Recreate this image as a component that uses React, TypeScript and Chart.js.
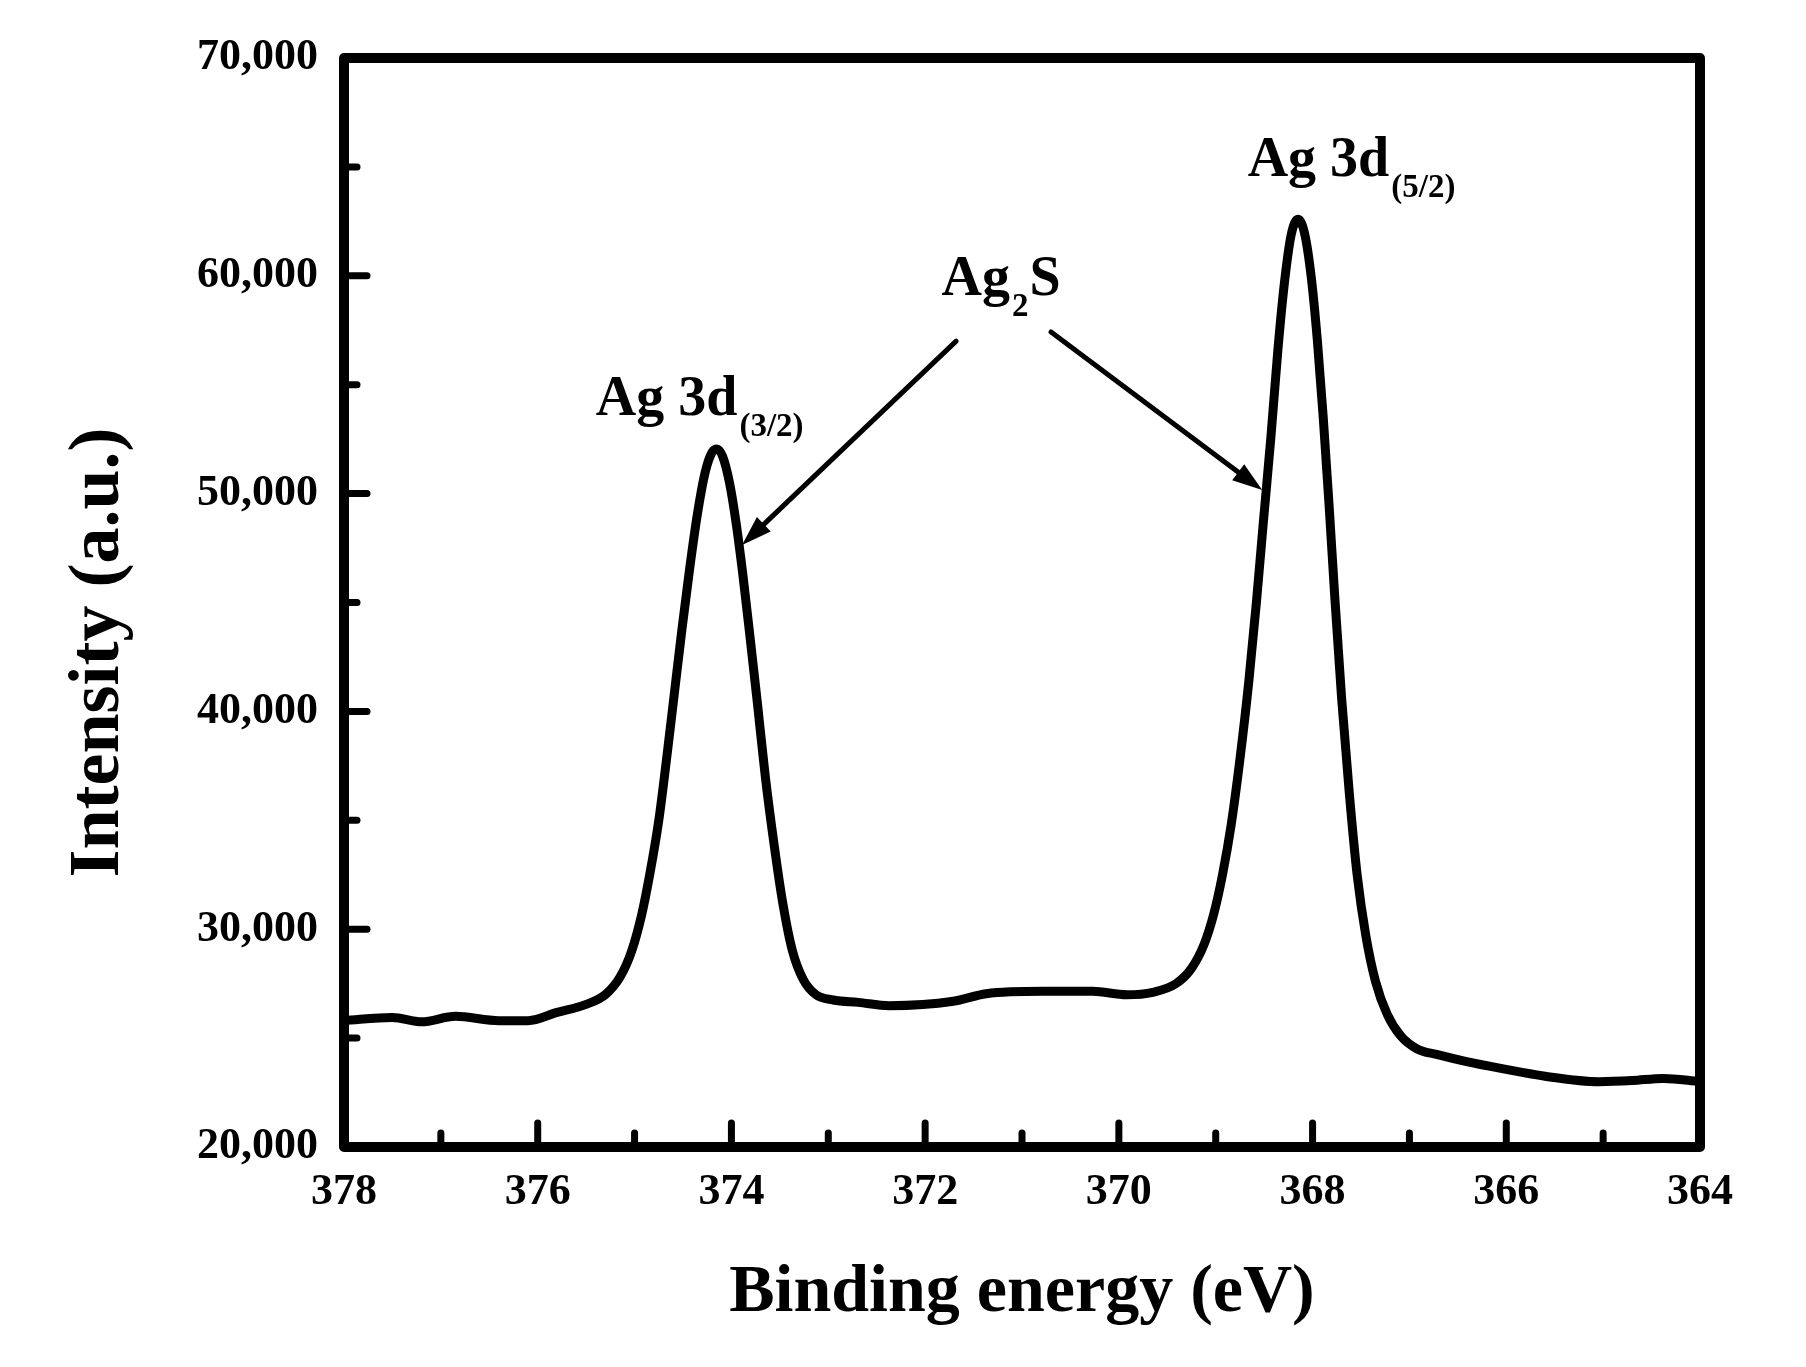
import React, { useEffect, useRef } from "react";
import { Chart, registerables } from "chart.js";

Chart.register(...registerables);

// ---- data ----
const bindingEnergy = [
  378.0, 377.5, 377.2, 376.85, 376.4, 376.1, 375.8, 375.5, 375.3, 375.15,
  375.03, 374.93, 374.84, 374.75, 374.67, 374.59, 374.51, 374.43, 374.35, 374.27,
  374.2, 374.15, 374.09, 374.02, 373.95, 373.88, 373.81, 373.73, 373.65, 373.56,
  373.47, 373.37, 373.26, 373.13, 372.95, 372.69, 372.37, 371.71, 371.37, 370.78,
  370.27, 369.92, 369.65, 369.41, 369.25, 369.12, 369.02, 368.93, 368.84, 368.75,
  368.66, 368.58, 368.51, 368.43, 368.36, 368.29, 368.22, 368.15, 368.08, 368.01,
  367.95, 367.89, 367.83, 367.77, 367.7, 367.62, 367.54, 367.45, 367.35, 367.23,
  367.09, 366.92, 366.72, 366.41, 366.07, 365.6, 365.04, 364.7, 364.38, 364.0,
];
const intensity = [
  25800, 25950, 25750, 26000, 25800, 25800, 26180, 26550, 27000, 27800,
  29000, 30600, 32600, 35000, 37800, 40800, 43800, 46600, 49100, 51000,
  51900, 52050, 51700, 50500, 48600, 46200, 43500, 40300, 37000, 33900,
  31200, 29000, 27700, 27000, 26750, 26640, 26490, 26690, 27040, 27150,
  27150, 26990, 27100, 27500, 28200, 29300, 30700, 32500, 34800, 37800,
  41300, 45000, 48600, 52600, 56500, 59700, 61900, 62600, 61900, 59800,
  57000, 53500, 49500, 45200, 40600, 36200, 32500, 29700, 27600, 26100,
  25100, 24500, 24250, 23920, 23620, 23250, 23000, 23050, 23150, 23000,
];

const xMajorTicks = [378, 376, 374, 372, 370, 368, 366, 364];
const xMinorTicks = [377, 375, 373, 371, 369, 367, 365];
const yMajorTicks = [20000, 30000, 40000, 50000, 60000, 70000];
const yMinorTicks = [25000, 35000, 45000, 55000, 65000];

const xAxisTitle = "Binding energy (eV)";
const yAxisTitle = "Intensity (a.u.)";

// annotation texts, anchored in data units
const peakLabelParts = [
  [{ t: "Ag 3d" }, { t: "(3/2)", sub: true }],
  [{ t: "Ag 3d" }, { t: "(5/2)", sub: true }],
  [{ t: "Ag" }, { t: "2", sub: true }, { t: "S" }],
];
const peakLabelX = [375.4, 368.67, 371.83];
const peakLabelY = [53600, 64600, 59100];

const arrowFromX = [371.68, 370.7];
const arrowFromY = [57000, 57420];
const arrowToX = [373.89, 368.52];
const arrowToY = [47640, 50160];

const FONT = '"Liberation Serif", "Times New Roman", Times, serif';

const decorPlugin = {
  id: "decor",
  afterDatasetsDraw(chart: any) {
    const { ctx, chartArea: a, scales } = chart;
    const xs = scales.x;
    const ys = scales.y;
    ctx.save();
    ctx.strokeStyle = "#000";
    ctx.lineCap = "round";
    ctx.lineWidth = 7;
    const tick = (x1: number, y1: number, x2: number, y2: number) => {
      ctx.beginPath();
      ctx.moveTo(x1, y1);
      ctx.lineTo(x2, y2);
      ctx.stroke();
    };
    xMajorTicks.forEach((v) => {
      if (v === xs.min || v === xs.max) return;
      const p = xs.getPixelForValue(v);
      tick(p, a.bottom, p, a.bottom - 24);
    });
    xMinorTicks.forEach((v) => {
      const p = xs.getPixelForValue(v);
      tick(p, a.bottom, p, a.bottom - 14);
    });
    yMajorTicks.forEach((v) => {
      if (v === ys.min || v === ys.max) return;
      const p = ys.getPixelForValue(v);
      tick(a.left, p, a.left + 23, p);
    });
    yMinorTicks.forEach((v) => {
      const p = ys.getPixelForValue(v);
      tick(a.left, p, a.left + 13, p);
    });
    // frame
    ctx.lineWidth = 10;
    ctx.lineJoin = "round";
    ctx.strokeRect(a.left, a.top, a.right - a.left, a.bottom - a.top);
    ctx.restore();
  },
  afterDraw(chart: any) {
    const { ctx, chartArea: a, scales } = chart;
    const xs = scales.x;
    const ys = scales.y;
    ctx.save();
    ctx.fillStyle = "#000";
    ctx.strokeStyle = "#000";

    // y-axis title
    ctx.save();
    ctx.translate(a.left - 226, (a.top + a.bottom) / 2 + 50);
    ctx.rotate(-Math.PI / 2);
    ctx.font = `bold 72px ${FONT}`;
    ctx.textAlign = "center";
    ctx.textBaseline = "alphabetic";
    ctx.fillText(yAxisTitle, 0, 0);
    ctx.restore();

    // peak labels
    ctx.textAlign = "left";
    ctx.textBaseline = "alphabetic";
    peakLabelParts.forEach((parts, i) => {
      let px = xs.getPixelForValue(peakLabelX[i]);
      const py = ys.getPixelForValue(peakLabelY[i]);
      parts.forEach((part: any) => {
        ctx.font = part.sub ? `bold 33px ${FONT}` : `bold 56px ${FONT}`;
        const by = part.sub ? py + 21 : py;
        ctx.fillText(part.t, px, by);
        px += ctx.measureText(part.t).width + (part.sub ? 1 : 2);
      });
    });

    // arrows
    arrowFromX.forEach((_, i) => {
      const x1 = xs.getPixelForValue(arrowFromX[i]);
      const y1 = ys.getPixelForValue(arrowFromY[i]);
      const x2 = xs.getPixelForValue(arrowToX[i]);
      const y2 = ys.getPixelForValue(arrowToY[i]);
      const ang = Math.atan2(y2 - y1, x2 - x1);
      const headLen = 30;
      const headHalf = 10;
      const bx = x2 - headLen * Math.cos(ang);
      const by = y2 - headLen * Math.sin(ang);
      ctx.lineWidth = 5;
      ctx.lineCap = "round";
      ctx.beginPath();
      ctx.moveTo(x1, y1);
      ctx.lineTo(bx + 4 * Math.cos(ang), by + 4 * Math.sin(ang));
      ctx.stroke();
      ctx.beginPath();
      ctx.moveTo(x2, y2);
      ctx.lineTo(bx + headHalf * Math.sin(ang), by - headHalf * Math.cos(ang));
      ctx.lineTo(bx - headHalf * Math.sin(ang), by + headHalf * Math.cos(ang));
      ctx.closePath();
      ctx.fill();
    });
    ctx.restore();
  },
};

export default function App() {
  const canvasRef = useRef<HTMLCanvasElement | null>(null);

  useEffect(() => {
    if (!canvasRef.current) return;
    const points = bindingEnergy.map((x, i) => ({ x, y: intensity[i] }));
    const chart = new Chart(canvasRef.current, {
      type: "line",
      data: {
        datasets: [
          {
            label: "Ag 3d",
            data: points,
            borderColor: "#000",
            borderWidth: 9,
            pointRadius: 0,
            fill: false,
            cubicInterpolationMode: "monotone",
            borderJoinStyle: "round",
            borderCapStyle: "round",
          },
        ],
      },
      options: {
        responsive: false,
        animation: false,
        devicePixelRatio: 1,
        layout: { padding: { top: 58, right: 106, left: 0, bottom: 0 } },
        plugins: {
          legend: { display: false },
          tooltip: { enabled: false },
          title: { display: false },
        },
        scales: {
          x: {
            type: "linear",
            reverse: true,
            min: 364,
            max: 378,
            grid: { display: false, drawTicks: false },
            border: { display: false },
            afterBuildTicks: (s: any) => {
              s.ticks = xMajorTicks.map((v) => ({ value: v }));
            },
            afterFit: (s: any) => {
              s.height = 220;
            },
            ticks: {
              autoSkip: false,
              maxRotation: 0,
              padding: 19,
              color: "#000",
              font: { family: FONT, size: 44, weight: "bold" },
              callback: (v: any) => String(v),
            },
            title: {
              display: true,
              text: xAxisTitle,
              color: "#000",
              font: { family: FONT, size: 68, weight: "bold" },
              padding: { top: 0, bottom: 33 },
            },
          },
          y: {
            type: "linear",
            min: 20000,
            max: 70000,
            grid: { display: false, drawTicks: false },
            border: { display: false },
            afterBuildTicks: (s: any) => {
              s.ticks = yMajorTicks.map((v) => ({ value: v }));
            },
            afterFit: (s: any) => {
              s.width = 344;
            },
            ticks: {
              padding: 26,
              color: "#000",
              font: { family: FONT, size: 44, weight: "bold" },
              callback: (v: any) => Number(v).toLocaleString("en-US"),
            },
          },
        },
      },
      plugins: [decorPlugin],
    } as any);
    return () => chart.destroy();
  }, []);

  return (
    <div
      style={{
        position: "absolute",
        left: 0,
        top: 0,
        width: 1806,
        height: 1367,
        background: "#fff",
      }}
    >
      <canvas ref={canvasRef} width={1806} height={1367} style={{ display: "block" }} />
    </div>
  );
}
